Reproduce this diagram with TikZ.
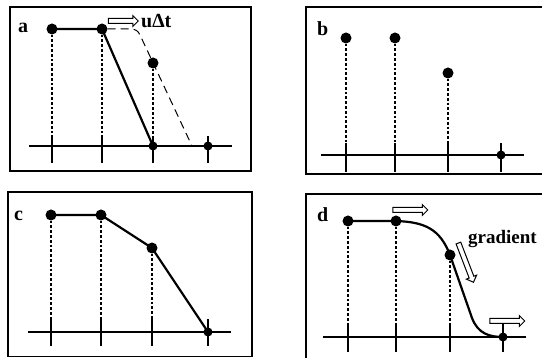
\documentclass[tikz,border=0pt]{standalone}
\usepackage{fontspec}
\setmainfont{Liberation Serif}
\usetikzlibrary{shapes.arrows, positioning}

\begin{document}
\begin{tikzpicture}[
        x=1pt, y=-1pt,
        frame/.style={line width=1.5pt},
        axis/.style={line width=1.5pt},
        knot/.style={circle, fill=black, inner sep=0pt, minimum size=11pt},
        smallknot/.style={circle, fill=black, inner sep=0pt, minimum size=9pt},
        guide/.style={line width=2.2pt, dash pattern=on 2.8pt off 2pt},
        profile/.style={line width=2.2pt, line join=round},
        shifted/.style={line width=1pt, dash pattern=on 8pt off 5pt},
        flowarrow/.style={single arrow, draw, line width=1pt, fill=white, minimum height=32pt, single arrow head extend=3pt, inner sep=2pt},
        panellabel/.style={font=\bfseries\fontsize{20}{20}\selectfont, anchor=base west, inner sep=0pt}
    ]
        \useasboundingbox (0,0) rectangle (542,358);
        \clip (0,0) rectangle (542,358);

        % Panel a
        \draw[frame] (10,7) rectangle (251,171);
        \node[panellabel] (labela) at (18,33) {a};
        \coordinate (axisa) at (0,146);
        \draw[axis] (29,146) -- (232,146);
        \foreach \x in {52,102,153,208}
            \draw[axis] (\x,136) -- (\x,163);
        \node[knot] (a1) at (52,29) {};
        \node[knot] (a2) at (102,29) {};
        \node[knot] (a3) at (153,63) {};
        \node[smallknot] (a4) at (153,146) {};
        \node[smallknot] (a5) at (208,146) {};
        \draw[guide] (a1) -- (a1 |- axisa);
        \draw[guide] (a2) -- (a2 |- axisa);
        \draw[guide] (a3) -- (a4);
        \draw[profile] (a1.center) -- (a2.center) -- (a4.center);
        \draw[shifted] (a2) -- (130,29) .. controls (136,29) and (138,31) .. (140,35) -- (192,146);
        \node[flowarrow, minimum height=30pt] (movea) at (122,21) {};
        \node[panellabel] (shifta) at (141,28) {u∆t};

        % Panel b
        \draw[frame] (306,7) rectangle (560,174);
        \node[panellabel] (labelb) at (317,36) {b};
        \coordinate (axisb) at (0,155);
        \draw[axis] (321,155) -- (524,155);
        \foreach \x in {346,395,448,501}
            \draw[axis] (\x,143) -- (\x,172);
        \node[knot] (b1) at (346,38) {};
        \node[knot] (b2) at (395,38) {};
        \node[knot] (b3) at (448,73) {};
        \node[smallknot] (b4) at (501,155) {};
        \draw[guide] (b1) -- (b1 |- axisb);
        \draw[guide] (b2) -- (b2 |- axisb);
        \draw[guide] (b3) -- (b3 |- axisb);

        % Panel c
        \draw[frame] (8,192) rectangle (252,356.5);
        \node[panellabel] (labelc) at (14,221) {c};
        \coordinate (axisc) at (0,332);
        \draw[axis] (28,332) -- (231,332);
        \foreach \x in {51,101,152,208}
            \draw[axis] (\x,319) -- (\x,346);
        \node[knot] (c1) at (51,215) {};
        \node[knot] (c2) at (101,215) {};
        \node[knot] (c3) at (152,248) {};
        \node[smallknot] (c4) at (208,332) {};
        \draw[guide] (c1) -- (c1 |- axisc);
        \draw[guide] (c2) -- (c2 |- axisc);
        \draw[guide] (c3) -- (c3 |- axisc);
        \draw[profile] (c1.center) -- (c2.center) -- (c3.center) -- (c4.center);

        % Panel d
        \draw[frame] (306,194) rectangle (560,380);
        \node[panellabel] (labeld) at (317,222) {d};
        \coordinate (axisd) at (0,337);
        \draw[axis] (323,337) -- (526,337);
        \foreach \x in {348,396,450,503}
            \draw[axis] (\x,324) -- (\x,352);
        \node[knot] (d1) at (348,221) {};
        \node[knot] (d2) at (396,221) {};
        \node[knot] (d3) at (450,255) {};
        \node[smallknot] (d4) at (503,337) {};
        \draw[guide] (d1) -- (d1 |- axisd);
        \draw[guide] (d2) -- (d2 |- axisd);
        \draw[guide] (d3) -- (d3 |- axisd);
        \draw[profile] (d1.center) -- (d2.center) .. controls (425,222) and (440,229) .. (d3.center)
            -- (472,318) .. controls (478,334) and (490,337) .. (d4.center);
        \node[flowarrow, minimum height=35pt] (moved) at (409,210) {};
        \node[flowarrow, minimum height=35pt] (movefoot) at (506,321) {};
        \node[flowarrow, minimum height=42pt, rotate=-69] (slope) at (465.5,261.5) {};
        \node[panellabel, font=\bfseries\fontsize{19}{19}\selectfont] (gradlabel) at (468,244) {gradient};

    \end{tikzpicture}
\end{document}
